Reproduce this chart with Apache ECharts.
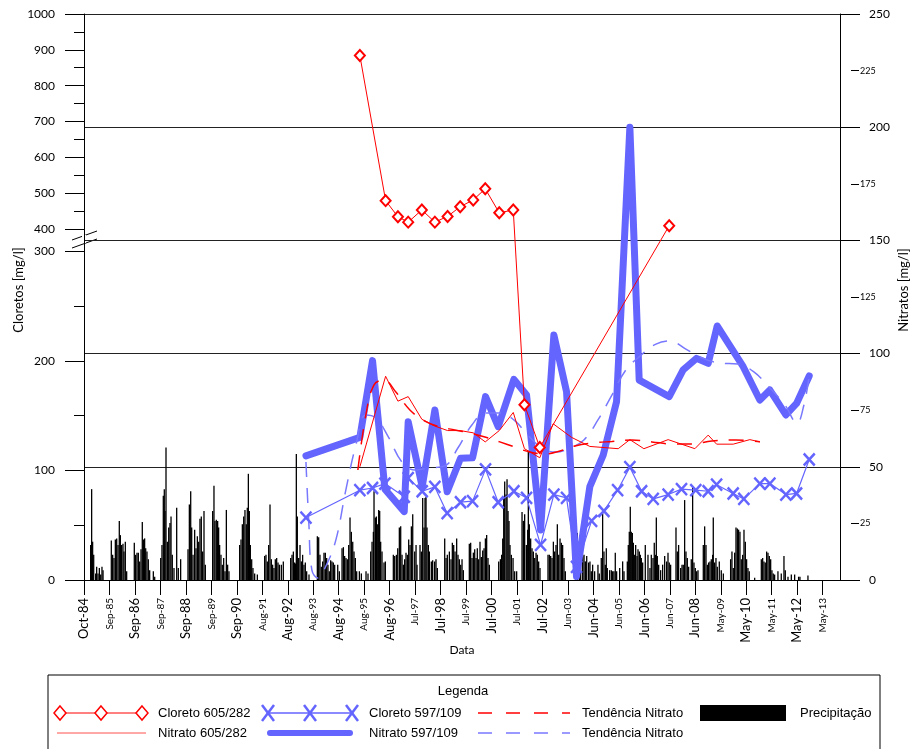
<!DOCTYPE html>
<html>
<head>
<meta charset="utf-8">
<script src="https://cdn.jsdelivr.net/npm/echarts@6/dist/echarts.min.js"></script>
<style>
html,body{margin:0;padding:0;background:#fff;}
#c{width:916px;height:749px;}
</style>
</head>
<body>
<div id="c"></div>
<script>
// ---------------- DATA ----------------
// X tick labels (one every 360 days starting 1984-10-05 = Excel serial 30960)
const xTickLabels = ['Oct-84','Sep-85','Sep-86','Sep-87','Sep-88','Sep-89','Sep-90','Aug-91','Aug-92','Aug-93',
  'Aug-94','Aug-95','Aug-96','Jul-97','Jul-98','Jul-99','Jul-00','Jul-01','Jul-02','Jun-03',
  'Jun-04','Jun-05','Jun-06','Jun-07','Jun-08','May-09','May-10','May-11','May-12','May-13'];
const leftMajorTicks = [0,100,200,300,400,500,600,700,800,900,1000];
const leftMinorTicks = [50,150,250,450,550,650,750,850,950];
const rightMajorTicks = [0,50,100,150,200,250];
const rightMinorTicks = [25,75,125,175,225];

// Cloreto 605/282 (mg/l, left axis)
const cl605Dates = ['1995-06-09','1996-06-07','1996-11-28','1997-04-22','1997-11-01','1998-05-04','1998-10-31',
  '1999-04-27','1999-10-28','2000-04-15','2000-10-30','2001-05-16','2001-10-21','2002-05-26','2007-05-29'];
const cl605Values = [884,479,434,419,453,419,435,462,481,512,445,453,160,121,409];

// Nitrato 605/282 (mg/l, right axis)
const no605Dates = ['1995-06-09','1996-06-07','1996-11-28','1997-04-22','1997-11-01','1998-05-04','1998-10-31',
  '1999-04-27','1999-10-28','2000-04-15','2000-10-30','2001-05-16','2001-10-21','2002-05-26','2002-12-01',
  '2003-08-18','2004-05-02','2005-06-07','2005-11-19','2006-06-05','2007-05-14','2008-05-26','2008-11-30',
  '2009-03-29','2009-11-18','2010-07-12','2010-11-30'];
const no605Values = [50,90,79,81,71,68,66,66,65,61,66,74,58,54,69,63,59,58,62,58,62,58,64,60,60,62,61];

// Cloreto 597/109 (mg/l, left axis)
const cl597Dates = ['1993-05-08','1995-06-09','1995-12-05','1996-05-28','1997-02-25','1997-04-22','1997-11-06',
  '1998-05-04','1998-10-25','1999-05-02','1999-10-19','2000-04-19','2000-10-15','2001-05-25','2001-11-20',
  '2002-06-06','2002-12-11','2003-06-08','2003-10-27','2004-05-27','2004-11-17','2005-05-30','2005-11-19',
  '2006-05-04','2006-10-15','2007-05-14','2007-11-19','2008-06-08','2008-11-30','2009-03-29','2009-11-18',
  '2010-04-18','2010-11-30','2011-04-21','2011-12-03','2012-05-02','2012-10-28'];
const cl597Values = [57,82,84,88,76,93,81,85,61,71,72,101,71,81,75,32,78,75,12,54,63,82,103,81,74,78,83,82,81,87,79,74,88,88,78,79,110];

// Nitrato 597/109 (mg/l, right axis)
const no597Dates = ['1993-05-08','1995-06-09','1995-12-05','1996-05-28','1997-02-25','1997-04-22','1997-11-06',
  '1998-05-04','1998-10-25','1999-05-02','1999-10-19','2000-04-19','2000-10-15','2001-05-25','2001-11-20',
  '2002-06-06','2002-12-11','2003-06-08','2003-10-27','2004-05-02','2004-11-07','2005-05-15','2005-11-19',
  '2006-03-31','2007-05-29','2007-12-12','2008-06-18','2008-11-30','2009-04-06','2010-04-09','2010-11-30',
  '2011-04-21','2011-12-03','2012-05-02','2012-10-28'];
const no597Values = [54.8,63,96.9,40.1,30.2,69.9,41.2,75.1,39,53.8,54,81,67.7,88.6,81.7,22.1,108.2,83.2,1.5,
  41.2,55.2,78.8,200,88.3,81,92.8,97.9,95.7,112.2,94.2,79.5,83.9,72.9,78,90.1];

// Tendência Nitrato 605/282 (red dashed)
const trend605Dates = ['1995-05-12','1995-09-02','1995-12-24','1996-05-13','1996-10-30','1997-05-16','1997-12-14',
  '1998-07-14','1999-02-11','1999-09-11','2000-04-10','2000-11-07','2001-06-09','2002-01-06','2002-08-06',
  '2003-03-06','2003-10-04','2004-06-01','2005-03-10','2005-12-18','2006-09-26','2007-07-06','2008-04-14',
  '2009-01-22','2009-12-27','2010-12-01'];
const trend605Values = [48.6,72.9,86.1,88.3,83,75.1,70.2,67.6,66.3,64.9,63.2,61,58.7,56.5,55.7,57,59.2,60.5,
  61.2,61.8,61,60.1,60.1,61.4,61.8,61.1];

// Tendência Nitrato 597/109 (blue dashed)
const trend597Dates = ['1993-05-08','1993-06-19','1993-07-31','1993-10-24','1994-02-14','1994-07-05','1994-11-23',
  '1995-04-14','1995-09-02','1996-01-21','1996-07-09','1997-01-23','1997-07-26','1998-02-23','1998-09-23',
  '1999-03-25','1999-10-09','2000-04-24','2000-11-07','2001-05-25','2001-12-09','2002-06-25','2003-01-08',
  '2003-07-25','2004-02-08','2004-08-25','2005-03-10','2005-09-24','2006-04-10','2006-11-22','2007-06-08',
  '2008-01-20','2008-09-02','2009-05-15','2010-01-24','2010-09-07','2011-04-21','2011-11-19','2012-05-07',
  '2012-08-14','2012-10-23'];
const trend597Values = [52.1,24.3,4.4,0.9,6.2,17.7,39.8,59.6,72.9,71.6,63.6,52.1,48.6,49.5,50.4,58.3,68.5,73.8,
  73.8,70.7,64,58.3,56.5,58.3,61.8,70.7,81.7,92.8,98.9,104.2,105.6,102,98.1,95.8,95.4,91.9,84.8,77.3,69.3,77.3,89.2];

// Precipitação: [Excel serial date, mm]
const precipitation = [
[31054,32],[31068,83],[31082,35],[31097,23],[31125,6],[31139,12],[31158,6],[31177,11],[31196,5],[31214,12],[31229,9],
[31346,36],[31365,23],[31384,20],[31403,37],[31422,38],[31441,32],[31459,54],[31474,41],[31492,32],[31511,33],[31525,26],[31544,35],[31563,8],
[31671,34],[31690,23],[31709,25],[31728,25],[31747,17],[31766,28],[31784,53],[31799,37],[31817,38],[31832,29],[31850,26],[31869,19],[31888,9],[31940,8],[31959,3],
[32044,20],[32062,32],[32081,77],[32095,83],[32105,63],[32119,121],[32138,35],[32157,48],[32175,52],[32190,58],[32208,23],[32232,11],[32270,66],[32293,11],[32326,19],
[32430,28],[32449,69],[32468,81],[32482,48],[32501,23],[32524,46],[32543,29],[32562,40],[32581,35],[32599,56],[32618,58],[32637,26],[32656,63],[32675,14],
[32778,63],[32797,86],[32811,54],[32830,55],[32849,54],[32863,48],[32877,32],[32896,23],[32915,14],[32934,20],[32953,8],[32972,64],[32990,14],[33009,8],
[33160,32],[33179,37],[33198,51],[33217,58],[33235,64],[33254,51],[33268,66],[33283,97],[33297,63],[33311,32],[33330,19],[33348,11],[33372,6],[33410,5],
[33513,22],[33532,23],[33551,17],[33570,32],[33589,69],[33608,19],[33626,14],[33645,11],[33664,19],[33683,20],[33702,16],[33721,14],[33749,14],[33777,17],
[33881,20],[33900,23],[33919,26],[33937,16],[33951,15],[33961,115],[33975,58],[33994,20],[34013,32],[34032,17],[34050,23],[34069,14],[34088,16],[34107,8],[34140,5],
[34258,40],[34277,39],[34295,23],[34314,12],[34333,17],[34352,25],[34371,25],[34390,20],[34408,14],[34427,8],[34446,18],[34465,17],[34484,16],[34503,14],
[34546,14],[34569,8],[34607,29],[34626,30],[34644,22],[34663,20],[34682,19],[34701,32],[34720,57],[34739,44],[34758,35],[34776,26],[34795,20],[34814,8],[34852,8],[34880,6],
[34946,8],[34974,6],[35012,26],[35031,35],[35050,44],[35059,81],[35078,57],[35092,58],[35111,51],[35125,64],[35139,63],[35153,35],[35172,26],[35200,16],[35219,17],
[35332,23],[35351,22],[35375,23],[35394,29],[35417,48],[35436,49],[35455,23],[35474,14],[35492,19],[35511,25],[35530,23],[35549,37],[35568,32],[35587,49],[35606,60],[35634,26],[35653,32],[35667,14],
[35709,32],[35728,26],[35747,75],[35766,48],[35780,75],[35794,76],[35808,48],[35827,32],[35841,26],[35869,17],[35888,18],[35916,17],[35935,19],[35954,11],
[36058,38],[36077,20],[36095,23],[36124,26],[36147,19],[36166,34],[36185,32],[36204,26],[36227,38],[36246,23],[36265,19],[36284,14],[36303,19],[36322,9],
[36406,33],[36425,34],[36444,20],[36463,25],[36482,28],[36501,20],[36519,29],[36538,19],[36557,35],[36576,21],[36595,27],[36614,29],[36633,38],[36651,41],[36670,20],[36689,14],
[36821,17],[36845,19],[36863,23],[36878,38],[36892,75],[36906,90],[36925,78],[36939,92],[36953,63],[36967,54],[36981,32],[37000,23],[37024,20],[37047,8],[37075,8],
[37151,62],[37170,54],[37188,60],[37212,32],[37231,46],[37240,118],[37254,51],[37273,38],[37292,29],[37311,26],[37330,20],[37349,25],[37367,23],[37386,17],[37405,11],
[37518,23],[37537,23],[37556,22],[37575,20],[37594,35],[37612,26],[37631,32],[37650,51],[37669,23],[37688,38],[37707,34],[37725,32],[37744,20],[37763,8],
[37914,28],[37933,43],[37961,29],[37980,26],[38008,22],[38027,23],[38046,17],[38065,22],
[38092,16],[38111,17],[38130,8],[38149,14],[38177,8],[38224,14],[38243,6],[38271,20],[38290,61],[38309,26],[38328,14],[38342,29],[38356,11],[38389,9],[38413,9],[38432,8],[38450,8],[38469,25],[38488,8],[38531,11],[38573,17],[38592,8],
[38639,17],[38653,32],[38667,44],[38681,67],[38695,44],[38710,43],[38724,34],[38738,23],[38757,32],[38776,22],[38790,28],[38809,26],[38823,23],[38837,20],[38856,16],
[38893,32],[38931,23],[38959,11],[38978,23],[39002,20],[39020,34],[39039,23],[39049,57],[39063,22],[39082,14],[39110,9],[39138,14],[39167,22],[39195,17],[39214,25],[39232,16],[39251,14],
[39327,48],[39346,26],[39364,32],[39393,11],[39412,14],[39430,14],[39449,73],[39468,26],[39487,20],[39506,12],[39543,19],[39562,85],[39581,16],[39600,11],[39619,8],[39638,9],
[39713,32],[39732,49],[39751,32],[39770,14],[39788,16],[39807,17],[39826,19],[39845,23],[39854,57],[39873,16],[39892,20],[39911,12],[39939,17],[39967,9],[39996,6],
[40099,19],[40118,26],[40137,11],[40156,25],[40175,48],[40194,47],[40212,46],[40231,44],[40250,19],[40269,23],[40288,46],[40307,35],[40325,19],[40344,11],[40363,8],
[40439,2],[40533,19],[40552,20],[40570,17],[40589,16],[40608,26],[40627,25],[40646,22],[40665,19],[40683,9],[40702,6],[40721,5],
[40768,8],[40815,6],[40853,22],[40872,9],[40910,3],[40957,5],[41004,5],[41060,3],[41079,3],[41192,4]
];

// ---------------- SCALES ----------------
const X_MIN = 30960;           // 1984-10-05 (Excel serial), tick every 360 days
const X_STEP = 360;
const X_MAX = 41645;
const serial = d => Date.parse(d + 'T00:00:00Z') / 86400000 + 25569;
// broken chloride axis: 0..310 -> lower 60 %, 368..1000 -> upper 40 %
const clDisp = v => v <= 339 ? v * 600 / 310 : 600 + (v - 368) * 400 / 632;

const xTicks = xTickLabels.map((_, i) => X_MIN + i * X_STEP);
const pairs = (dates, vals, f) => dates.map((d, i) => [serial(d), f ? f(vals[i]) : vals[i]]);

const BLUE = '#6464ff';
const BLUE_T = '#7878ff';
const RED = '#ff0000';
const FONT = 'Lato';
const LFONT = 'Liberation Sans';

// ---------------- LEGEND (graphic) ----------------
const graphic = [];
function gLine(x1,y1,x2,y2,st){ graphic.push({type:'line',silent:true,shape:{x1,y1,x2,y2},style:Object.assign({stroke:'#000',lineWidth:1},st)}); }
function gText(x,y,t,st){ graphic.push({type:'text',silent:true,x,y,style:Object.assign({text:t,fill:'#000',font:'13px '+LFONT,textVerticalAlign:'middle'},st)}); }
function gDiamond(cx,cy){ graphic.push({type:'polygon',silent:true,shape:{points:[[cx,cy-7],[cx+6,cy],[cx,cy+7],[cx-6,cy]]},style:{fill:'#fff',stroke:RED,lineWidth:1.5}}); }
function gX(cx,cy){ gLine(cx-6,cy-8,cx+6,cy+8,{stroke:BLUE,lineWidth:2.5}); gLine(cx+6,cy-8,cx-6,cy+8,{stroke:BLUE,lineWidth:2.5}); }
// box
graphic.push({type:'rect',silent:true,shape:{x:48,y:675,width:832,height:90},style:{fill:'none',stroke:'#000',lineWidth:1}});
gText(463,691,'Legenda',{textAlign:'center'});
const r1 = 713, r2 = 733;
gLine(60,r1,142,r1,{stroke:RED,lineWidth:1}); gDiamond(60,r1); gDiamond(101,r1); gDiamond(142,r1);
gText(158,r1,'Cloreto 605/282');
gLine(268,r1,352,r1,{stroke:BLUE,lineWidth:1.5}); gX(268,r1); gX(310,r1); gX(352,r1);
gText(369,r1,'Cloreto 597/109');
gLine(478,r1,570,r1,{stroke:RED,lineWidth:1.5,lineDash:[14,14]});
gText(582,r1,'Tendência Nitrato');
graphic.push({type:'rect',silent:true,shape:{x:700,y:705,width:86,height:16},style:{fill:'#000'}});
gText(800,r1,'Precipitação');
gLine(57,r2,146,r2,{stroke:'#ff5050',lineWidth:1});
gText(158,r2,'Nitrato 605/282');
gLine(270,r2,350,r2,{stroke:BLUE,lineWidth:6,lineCap:'round'});
gText(369,r2,'Nitrato 597/109');
gLine(478,r2,570,r2,{stroke:BLUE_T,lineWidth:1.5,lineDash:[14,14]});
gText(582,r2,'Tendência Nitrato');
// axis break marks
gLine(72,240,97,231,{stroke:'#000',lineWidth:1});
gLine(72,248,97,239,{stroke:'#000',lineWidth:1});
graphic.push({type:'rect',silent:true,shape:{x:82,y:235,width:4,height:8},style:{fill:'#fff'}});

// ---------------- CHART ----------------
const chart = echarts.init(document.getElementById('c'));
const labelOf = (ticks, v) => { for (const t of ticks) if (Math.abs(clDisp(t) - v) < 0.01) return String(t); return ''; };

chart.setOption({
  animation: false,
  backgroundColor: '#fff',
  graphic: graphic,
  grid: {left: 84, right: 76, top: 14, bottom: 169, containLabel: false, outerBoundsMode: 'none'},
  xAxis: {
    type: 'value', min: X_MIN, max: X_MAX,
    name: 'Data', nameLocation: 'middle', nameGap: 64, nameMoveOverlap: false,
    nameTextStyle: {fontFamily: FONT, fontSize: 12, color: '#000'},
    axisLine: {show: true, onZero: false, lineStyle: {color: '#000', width: 1}},
    axisTick: {show: true, customValues: xTicks, length: 15, lineStyle: {color: '#000', width: 1}},
    axisLabel: {
      customValues: xTicks, rotate: 90, margin: 18, color: '#000',
      formatter: v => { const i = Math.round((v - X_MIN) / X_STEP); const t = xTickLabels[i] || ''; return i % 2 === 0 ? '{a|' + t + '}' : '{b|' + t + '}'; },
      rich: {a: {fontFamily: FONT, fontSize: 13, color: '#000'}, b: {fontFamily: FONT, fontSize: 10, color: '#000'}}
    },
    splitLine: {show: false}
  },
  yAxis: [
    { // 0 left chloride, major ticks + labels
      type: 'value', position: 'left', min: 0, max: 1000,
      name: 'Cloretos [mg/l]', nameLocation: 'middle', nameGap: 59, nameRotate: 90, nameMoveOverlap: false,
      nameTextStyle: {fontFamily: FONT, fontSize: 13, color: '#000', padding: [0, 0, 0, 14]},
      axisLine: {show: true, lineStyle: {color: '#000', width: 1}},
      axisTick: {show: true, customValues: leftMajorTicks.map(clDisp), length: 19, lineStyle: {color: '#000'}},
      axisLabel: {customValues: leftMajorTicks.map(clDisp), margin: 29, fontFamily: FONT, fontSize: 12, color: '#000',
        formatter: v => labelOf(leftMajorTicks, v)},
      splitLine: {show: false}
    },
    { // 1 left chloride minor ticks
      type: 'value', position: 'left', min: 0, max: 1000,
      axisLine: {show: false},
      axisTick: {show: true, customValues: leftMinorTicks.map(clDisp), length: 10, lineStyle: {color: '#000'}},
      axisLabel: {show: false}, splitLine: {show: false}
    },
    { // 2 right nitrate
      type: 'value', position: 'right', min: 0, max: 250, interval: 50,
      name: 'Nitratos [mg/l]', nameLocation: 'middle', nameGap: 57, nameRotate: 90, nameMoveOverlap: false,
      nameTextStyle: {fontFamily: FONT, fontSize: 13, color: '#000', padding: [0, 0, 0, 14]},
      axisLine: {show: true, lineStyle: {color: '#000', width: 1}},
      axisTick: {show: true, length: 20, lineStyle: {color: '#000'}},
      axisLabel: {margin: 29, fontFamily: FONT, fontSize: 12, color: '#000'},
      splitLine: {show: true, lineStyle: {color: '#222', width: 1}}
    },
    { // 3 right minor
      type: 'value', position: 'right', min: 0, max: 250, offset: 11,
      axisLine: {show: false},
      axisTick: {show: true, customValues: rightMinorTicks, length: 8, lineStyle: {color: '#000'}},
      axisLabel: {customValues: rightMinorTicks, margin: 9, fontFamily: FONT, fontSize: 9, color: '#000'},
      splitLine: {show: false}
    },
    { // 4 precipitation (hidden)
      type: 'value', position: 'left', min: 0, max: 517, show: false
    }
  ],
  series: [
    {name: 'Precipitação', type: 'bar', xAxisIndex: 0, yAxisIndex: 4, barWidth: 1.3,
      itemStyle: {color: '#000'}, data: precipitation, z: 1},
    {name: 'Nitrato 597/109', type: 'line', yAxisIndex: 2, showSymbol: false, symbol: 'none',
      lineStyle: {color: BLUE, width: 7, cap: 'round', join: 'round'}, data: pairs(no597Dates, no597Values), z: 2},
    {name: 'Tendência Nitrato 597/109', type: 'line', yAxisIndex: 2, symbol: 'none', smooth: 0.4,
      lineStyle: {color: BLUE_T, width: 1.5, type: [15, 11]}, data: pairs(trend597Dates, trend597Values), z: 3},
    {name: 'Tendência Nitrato 605/282', type: 'line', yAxisIndex: 2, symbol: 'none', smooth: 0.4,
      lineStyle: {color: RED, width: 1.5, type: [15, 11]}, data: pairs(trend605Dates, trend605Values), z: 3},
    {name: 'Nitrato 605/282', type: 'line', yAxisIndex: 2, symbol: 'none',
      lineStyle: {color: RED, width: 1}, data: pairs(no605Dates, no605Values), z: 4},
    {name: 'Cloreto 597/109', type: 'line', yAxisIndex: 0, symbol: 'path://M0,0L10,10M10,0L0,10', symbolSize: [11, 12],
      itemStyle: {color: BLUE, borderColor: BLUE, borderWidth: 2.5},
      lineStyle: {color: BLUE, width: 1.2}, data: pairs(cl597Dates, cl597Values, clDisp), z: 5},
    {name: 'Cloreto 605/282', type: 'line', yAxisIndex: 0, symbol: 'emptyDiamond', symbolSize: [10, 11],
      itemStyle: {color: RED, borderColor: RED, borderWidth: 1.5},
      lineStyle: {color: RED, width: 1}, data: pairs(cl605Dates, cl605Values, clDisp), z: 6}
  ]
});
</script>
</body>
</html>
